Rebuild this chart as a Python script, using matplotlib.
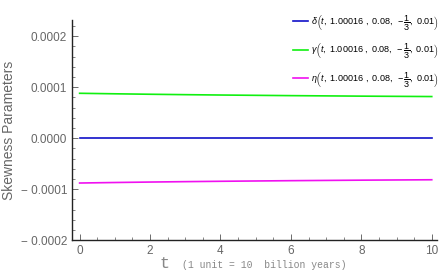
import matplotlib
matplotlib.use("Agg")
import matplotlib.pyplot as plt
import numpy as np
from matplotlib.ticker import MultipleLocator, FuncFormatter

plt.rcParams['mathtext.fontset'] = 'custom'
plt.rcParams['mathtext.rm'] = 'Liberation Sans'
plt.rcParams['mathtext.it'] = 'Liberation Sans:italic'
plt.rcParams['mathtext.bf'] = 'Liberation Sans:bold'

t = [0, 1, 2, 3, 4, 5, 6, 7, 8, 9, 10]
delta_vals = [0, 0, 0, 0, 0, 0, 0, 0, 0, 0, 0]
gamma_vals = [8.80e-5, 8.70e-5, 8.61e-5, 8.53e-5, 8.46e-5, 8.40e-5, 8.34e-5, 8.29e-5, 8.24e-5, 8.20e-5, 8.16e-5]
eta_vals = [-8.80e-5, -8.70e-5, -8.61e-5, -8.53e-5, -8.46e-5, -8.40e-5, -8.34e-5, -8.29e-5, -8.24e-5, -8.20e-5, -8.16e-5]

labels = [
    r'$\delta\left(t,\ 1.00016\ ,\ 0.08,\ -\dfrac{1}{3},\ 0.01\right)$',
    r'$\gamma\left(t,\ 1.00016\ ,\ 0.08,\ -\dfrac{1}{3},\ 0.01\right)$',
    r'$\eta\left(t,\ 1.00016\ ,\ 0.08,\ -\dfrac{1}{3},\ 0.01\right)$',
]
colors = ['#1010c8', '#10f010', '#f010f0']

fig = plt.figure(figsize=(4.41, 2.76), dpi=100)
ax = fig.add_axes([0.163, 0.130, 0.828, 0.798])

for vals, lab, c in zip([delta_vals, gamma_vals, eta_vals], labels, colors):
    ax.plot(t, vals, color=c, lw=1.2, label=lab)

ax.set_xlim(-0.22, 10.15)
ax.set_ylim(-0.0002, 0.000232)

for s in ['top', 'right']:
    ax.spines[s].set_visible(False)
for s in ['left', 'bottom']:
    ax.spines[s].set_color('#222222')
    ax.spines[s].set_linewidth(1.0)

ax.xaxis.set_major_locator(MultipleLocator(2))
ax.xaxis.set_minor_locator(MultipleLocator(0.5))
ax.yaxis.set_major_locator(MultipleLocator(0.0001))
ax.yaxis.set_minor_locator(MultipleLocator(0.00002))

def yfmt(v, pos):
    if abs(v) < 1e-12:
        return '0.0000'
    if v < 0:
        return '\u2212 %.4f' % abs(v)
    return '%.4f' % v
ax.yaxis.set_major_formatter(FuncFormatter(yfmt))
ax.xaxis.set_major_formatter(FuncFormatter(lambda v, p: '%d' % round(v)))

ax.tick_params(axis='both', which='major', direction='in', length=4, width=0.6,
               color='#555555', labelcolor='#666666', labelsize=8.5)
ax.tick_params(axis='both', which='minor', direction='in', length=2, width=0.5, color='#555555')
for lab in ax.get_xticklabels() + ax.get_yticklabels():
    lab.set_family('Liberation Sans')

ax.set_ylabel('Skewness Parameters', color='#666666', fontsize=10, labelpad=3,
              family='Liberation Sans')
fig.text(0.374, 0.03, 't', fontsize=12, color='#888888', family='Liberation Mono', ha='center', va='baseline')
fig.text(0.413, 0.03, '(1 unit = 10  billion years)', fontsize=7, color='#888888',
         family='Liberation Mono', ha='left', va='baseline')

leg = ax.legend(loc='upper right', frameon=False, fontsize=6.5, handlelength=1.6,
                labelspacing=1.05, bbox_to_anchor=(1.028, 1.07), handletextpad=0.35)

fig.savefig('out.png', dpi=100)
